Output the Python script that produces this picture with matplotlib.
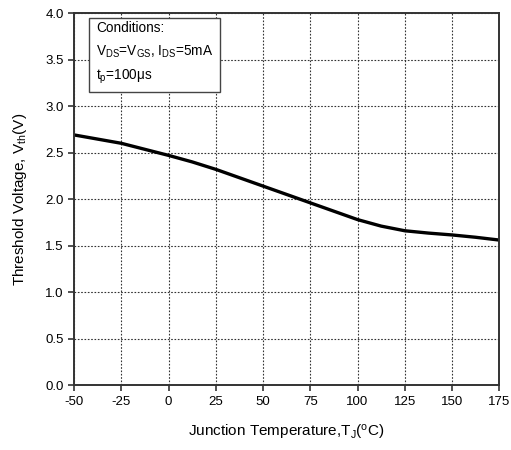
import matplotlib
matplotlib.use("Agg")
import matplotlib.pyplot as plt

plt.rcParams['font.family'] = ['Liberation Sans', 'DejaVu Sans']
plt.rcParams['mathtext.fontset'] = 'custom'
plt.rcParams['mathtext.rm'] = 'Liberation Sans'
plt.rcParams['mathtext.it'] = 'Liberation Sans'

temperature = [-50, -37.5, -25, -12.5, 0, 12.5, 25, 37.5, 50, 62.5, 75, 87.5, 100, 112.5, 125, 137.5, 150, 162.5, 175]
vth = [2.69, 2.645, 2.60, 2.535, 2.47, 2.40, 2.32, 2.23, 2.14, 2.05, 1.96, 1.87, 1.78, 1.71, 1.66, 1.635, 1.615, 1.59, 1.56]
xticks = [-50, -25, 0, 25, 50, 75, 100, 125, 150, 175]
yticks = [0.0, 0.5, 1.0, 1.5, 2.0, 2.5, 3.0, 3.5, 4.0]

fig = plt.figure(figsize=(5.11, 4.5), dpi=100)
ax = fig.add_axes([0.145, 0.144, 0.832, 0.827])
ax.plot(temperature, vth, color='black', lw=2.4, solid_capstyle='butt')
ax.set_xlim(-50, 175)
ax.set_ylim(0, 4.0)
ax.set_xticks(xticks)
ax.set_xticklabels([str(t) for t in xticks])
ax.set_yticks(yticks)
ax.set_yticklabels([f"{v:.1f}" for v in yticks])
ax.grid(True, linestyle=(0, (1.5, 1.5)), color='#333333', lw=0.8)
ax.tick_params(direction='out', length=4, width=1.2, labelsize=9.5, color='#333333')
for s in ax.spines.values():
    s.set_linewidth(1.4)
    s.set_color('#333333')
ax.set_xlabel(r'Junction Temperature,T$_{\rm J}$($\rm{^o}$C)', fontsize=11, labelpad=11)
ax.set_ylabel(r'Threshold Voltage, V$_{\rm th}$(V)', fontsize=11, labelpad=12)
ax.text(-38.5, 3.91, "Conditions:\n" + r"V$_{\rm DS}$=V$_{\rm GS}$, I$_{\rm DS}$=5mA" + "\n" + r"t$_{\rm p}$=100$\rm\mu$s",
        fontsize=9.8, va='top', ha='left', linespacing=1.65,
        bbox=dict(boxstyle='square,pad=0.5', fc='white', ec='#444444', lw=1.0))
fig.savefig("out.png", dpi=100)
